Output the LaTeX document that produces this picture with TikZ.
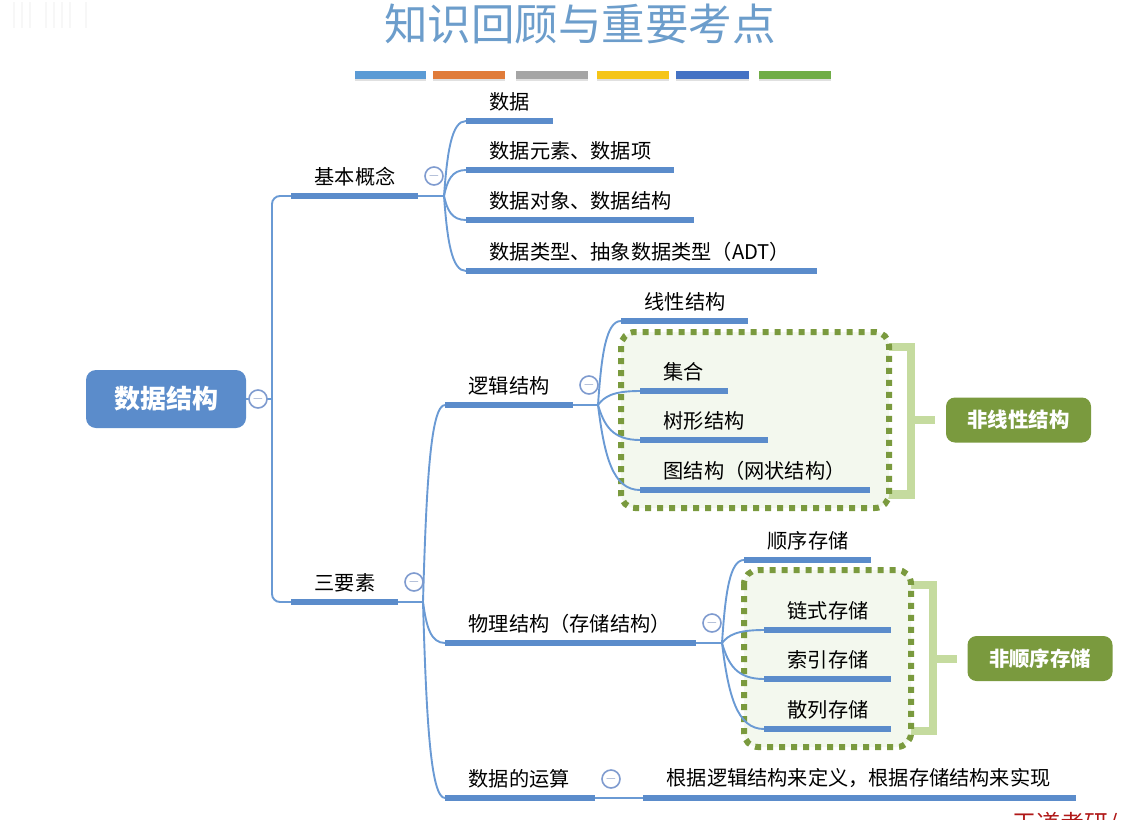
\documentclass[tikz,border=0pt]{standalone}
\usepackage{fontspec}
\setmainfont{Noto Sans CJK SC}
\usetikzlibrary{calc}

\definecolor{barblue}{HTML}{5B8CCB}
\definecolor{linkblue}{HTML}{6A9AD4}
\definecolor{foldblue}{HTML}{7F9BCF}
\definecolor{leafgreen}{HTML}{7A9A3E}
\definecolor{palegreen}{HTML}{C5DB9F}
\definecolor{boxgreen}{HTML}{F3F8EE}
\definecolor{headblue}{HTML}{6C9DCB}
\definecolor{markred}{HTML}{B01818}

\tikzset{
  link/.style={draw=linkblue,line width=1.9pt},
  bar/.style={draw=barblue,line width=5.4pt},
  label/.style={anchor=west,inner sep=0pt,font=\fontsize{20.2}{21}\selectfont},
  fold/.style={circle,draw=foldblue,fill=white,line width=1.6pt,minimum size=18pt,inner sep=0pt,
    text=foldblue!80!gray,font=\fontsize{14}{14}\selectfont},
  dotbox/.style={draw=leafgreen,fill=boxgreen,line width=6pt,rounded corners=14pt,dash pattern=on 6pt off 6pt},
  bracket/.style={draw=palegreen,line width=8.5pt},
  tag/.style={rounded corners=9pt,fill=leafgreen,text=white,inner sep=0pt,minimum width=145pt,minimum height=45pt,
    font=\fontsize{20.4}{21}\selectfont\bfseries},
  branch/.style={to path={let \p1=(\tikztostart),\p2=(\tikztotarget) in
    .. controls (\x1+.15*\x2-.15*\x1,\y1+.6*\y2-.6*\y1) and (\x1+.35*\x2-.35*\x1,\y2) .. (\tikztotarget)}}
}

\begin{document}
\begin{tikzpicture}[x=1pt,y=-1pt]
  \useasboundingbox (0,0) rectangle (1134,819);

  % faint logo in the corner
  \foreach \x in {14,22,30,46,54,62,70,86} {
    \draw[black!3,line width=2pt] (\x,2) -- (\x,28);
  }

  % heading and colour strip
  \node[inner sep=0pt,text=headblue,font=\fontsize{43.5}{44}\selectfont] (title) at (580,24) {知识回顾与重要考点};
  \foreach \xa/\xb/\col in {355/426/5B9BD5,433/505/E07B39,516/588/A5A5A5,597/669/F5C518,676/749/4472C4,759/831/70AD47} {
    \definecolor{stripcol}{HTML}{\col}
    \fill[black!12] (\xa,74) rectangle (\xb,81);
    \fill[stripcol] (\xa,71) rectangle (\xb,79);
  }

  % brackets and dotted groups
  \coordinate (brOne) at (911,420);
  \coordinate (stubOne) at (935,420);
  \draw[bracket] (886,347) -- (911,347) -- (911,494.5) -- (886,494.5);
  \draw[bracket] (brOne) -- (stubOne);
  \draw[dotbox] (621,332) rectangle (889,508);
  \coordinate (brTwo) at (933,659);
  \coordinate (stubTwo) at (957,659);
  \draw[bracket] (908,585) -- (933,585) -- (933,731) -- (908,731);
  \draw[bracket] (brTwo) -- (stubTwo);
  \draw[dotbox] (744,570) rectangle (911,747);

  \node[tag] (nonlinear) at (1018.5,420) {非线性结构};
  \node[tag] (nonseq) at (1040,658.5) {非顺序存储};

  % topics: bar ends are named so the links can attach to them
  \foreach \name/\xa/\xb/\y/\txt in {
    basic/291/418/196/基本概念,
    three/291/398/602/三要素,
    data/466/553/121/数据,
    elem/466/674/170/数据元素、数据项,
    obj/466/694/220/数据对象、数据结构,
    type/466/817/271/数据类型、抽象数据类型（ADT）,
    logic/445/573/405/逻辑结构,
    phys/445/696/643/物理结构（存储结构）,
    oper/445/595/798/数据的运算,
    impl/643/1076/798/根据逻辑结构来定义，根据存储结构来实现,
    linear/621/748/321/线性结构,
    set/640/728/391/集合,
    tree/640/768/440/树形结构,
    graph/640/870/490/图结构（网状结构）,
    seq/744/871/560/顺序存储,
    chain/764/891/630/链式存储,
    index/764/891/679/索引存储,
    hash/764/891/729/散列存储} {
    \coordinate (\name-l) at (\xa,\y);
    \coordinate (\name-r) at (\xb,\y);
    \node[label] (\name) at (\xa+23.5,\y-19.5) {\txt};
  }

  \node[fill=barblue,rounded corners=10pt,minimum width=160pt,minimum height=58pt,inner sep=0pt,text=white,
    font=\fontsize{26}{26}\selectfont\bfseries] (root) at (166,399) {数据结构};

  % links
  \coordinate (trunk) at (272,399);
  \coordinate (basic-j) at (444,196);
  \coordinate (three-j) at (423,602);
  \coordinate (logic-j) at (598,405);
  \coordinate (phys-j) at (722,643);
  \draw[link,rounded corners=8pt] (basic-l) -| (trunk) |- (three-l);
  \draw[link] (root) -- (trunk);
  \foreach \src in {basic,three,logic,phys} {
    \draw[link] (\src-r) -- (\src-j);
  }
  \foreach \src/\dst in {basic/data,basic/elem,basic/obj,basic/type,three/logic,three/phys,three/oper,
    logic/linear,logic/set,logic/tree,logic/graph,phys/seq,phys/chain,phys/index,phys/hash} {
    \draw[link] (\src-j) to[branch] (\dst-l);
  }
  \draw[link] (oper-r) -- (impl-l);

  \foreach \name in {basic,three,data,elem,obj,type,logic,phys,oper,impl,linear,set,tree,graph,seq,chain,index,hash} {
    \draw[bar] (\name-l) -- (\name-r);
  }

  % fold markers
  \foreach \name/\x/\y in {foldroot/258/399,foldbasic/434/176,foldthree/414/582,foldlogic/589/385,foldphys/712/623,foldoper/611/779} {
    \node[fold] (\name) at (\x,\y) {$-$};
  }

  % mark running off the lower edge
  \node[anchor=west,inner sep=0pt,text=markred,font=\fontsize{24}{24}\selectfont] (mark) at (1012,825) {王道考研/};
\end{tikzpicture}
\end{document}
